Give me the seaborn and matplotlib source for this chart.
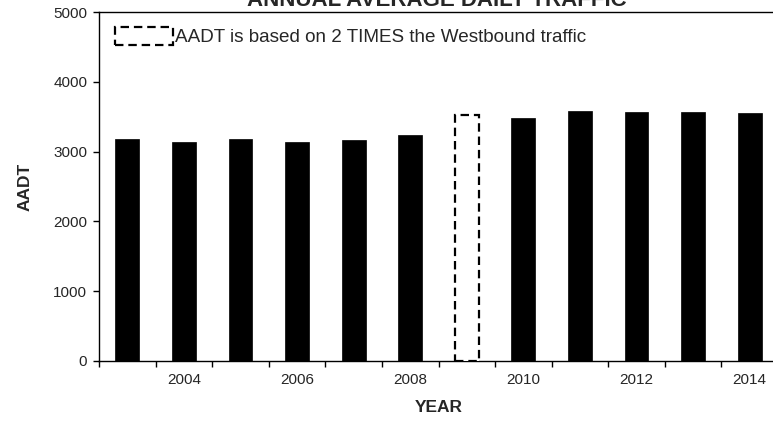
import numpy as np
import pandas as pd
import matplotlib
matplotlib.use('Agg')
import matplotlib.pyplot as plt
from matplotlib.patches import Patch
import seaborn as sns

# 연도별 AADT (2009년은 서행 방향 교통량 x2)
years = ['2003', '2004', '2005', '2006', '2007', '2008',
         '2009', '2010', '2011', '2012', '2013', '2014']
aadt = [3180, 3140, 3175, 3135, 3165, 3235,
        3525, 3490, 3585, 3575, 3565, 3560]
label_years = ['2004', '2006', '2008', '2010', '2012', '2014']
dashed_year = '2009'
note = 'AADT is based on 2 TIMES the Westbound traffic'

sns.set_style('white')
plt.rcParams['font.family'] = ['Liberation Sans', 'DejaVu Sans']

df = pd.DataFrame({'year': years, 'aadt': aadt})

fig = plt.figure(figsize=(7.73, 4.26), dpi=100)
ax = fig.add_axes([99 / 773, 65.3 / 426, 679 / 773, 348.4 / 426])

sns.barplot(data=df, x='year', y='aadt', color='black', saturation=1,
            width=0.42, edgecolor='black', linewidth=0.5, ax=ax)

# 2009 막대는 점선 테두리만
i = years.index(dashed_year)
p = ax.patches[i]
p.set_facecolor('white')
p.set_linestyle((0, (3.8, 2.2)))
p.set_linewidth(1.6)
p.set_zorder(3)

ax.set_ylim(0, 5000)
ax.set_xlim(-0.5, len(years) - 0.5)
ax.set_yticks(np.arange(0, 5001, 1000))
ax.set_xticks([years.index(y) for y in label_years])
ax.set_xticklabels(label_years)
ax.set_xticks(np.arange(-0.5, len(years), 1), minor=True)
ax.tick_params(axis='x', which='major', length=0, pad=9, labelsize=11)
ax.tick_params(axis='x', which='minor', length=4.5, width=1, direction='out', color='black')
ax.tick_params(axis='y', length=4.5, width=1, direction='out', color='black', pad=4, labelsize=11)
ax.xaxis.set_ticks_position('bottom')
ax.yaxis.set_ticks_position('left')

for s in ax.spines.values():
    s.set_color('black')
    s.set_linewidth(1)

ax.set_xlabel('YEAR', fontsize=12.5, fontweight='bold', labelpad=9)
ax.set_ylabel('AADT', fontsize=12.5, fontweight='bold', labelpad=15)

handle = Patch(facecolor='white', edgecolor='black', linestyle=(0, (3.8, 2.2)), linewidth=1.6)
ax.legend([handle], [note], loc='upper left', bbox_to_anchor=(0.0235, 0.958),
          frameon=False, fontsize=13.6, handlelength=3.05, handleheight=1.1,
          handletextpad=0.12, borderaxespad=0, borderpad=0)

fig.text(437 / 773, 1 - 6 / 426, 'ANNUAL AVERAGE DAILY TRAFFIC', ha='center', va='baseline',
         fontsize=16, fontweight='bold')

fig.savefig('out.png', dpi=100)
